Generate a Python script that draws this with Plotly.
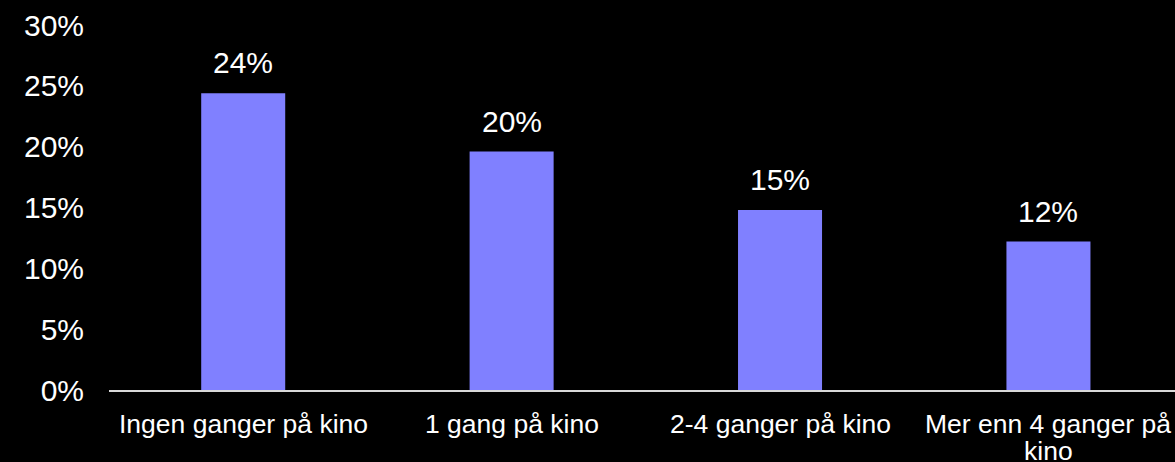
import plotly.graph_objects as go

# Cinema visits: share of respondents per category
categories = ["Ingen ganger på kino", "1 gang på kino", "2-4 ganger på kino", "Mer enn 4 ganger på kino"]
# Category labels as printed under the axis (last one wraps onto two lines)
category_lines = [["Ingen ganger på kino"], ["1 gang på kino"], ["2-4 ganger på kino"], ["Mer enn 4 ganger på", "kino"]]
shares = [0.244, 0.196, 0.148, 0.122]

BAR_COLOR = "#8080FF"
FONT = "Liberation Sans, Arial, sans-serif"

x_pos = list(range(len(categories)))

fig = go.Figure(
    go.Bar(
        x=x_pos,
        y=shares,
        marker=dict(color=BAR_COLOR, line=dict(width=0)),
        hoverinfo="skip",
    )
)

annotations = []
# Value labels above each bar
for xi, v in zip(x_pos, shares):
    annotations.append(dict(
        x=xi, y=v, xref="x", yref="y",
        text=f"{v:.0%}",
        showarrow=False, yanchor="bottom", yshift=12,
        font=dict(family=FONT, size=30, color="white"),
    ))
# Category labels under the axis
for xi, lines in zip(x_pos, category_lines):
    for k, line in enumerate(lines):
        annotations.append(dict(
            x=xi, y=0, xref="x", yref="paper",
            text=line,
            showarrow=False, yanchor="top", yshift=-17 - 27 * k,
            font=dict(family=FONT, size=26.5, color="white"),
        ))

fig.update_layout(
    width=1175, height=462,
    margin=dict(l=109, r=0, t=25, b=72),
    paper_bgcolor="black", plot_bgcolor="black",
    bargap=0.687,
    showlegend=False,
    font=dict(family=FONT, color="white"),
    annotations=annotations,
    xaxis=dict(
        range=[-0.5, 3.4715],
        showgrid=False, zeroline=False,
        showline=True, linecolor="#d9d9d9", linewidth=2,
        showticklabels=False, ticks="",
        fixedrange=True,
    ),
    yaxis=dict(
        range=[0, 0.30], dtick=0.05, tickformat=".0%",
        showgrid=False, zeroline=False, showline=False, ticks="",
        ticklabelstandoff=24,
        tickfont=dict(family=FONT, size=30, color="white"),
        fixedrange=True,
    ),
)

fig.write_html("out.html", config={"displayModeBar": False})
